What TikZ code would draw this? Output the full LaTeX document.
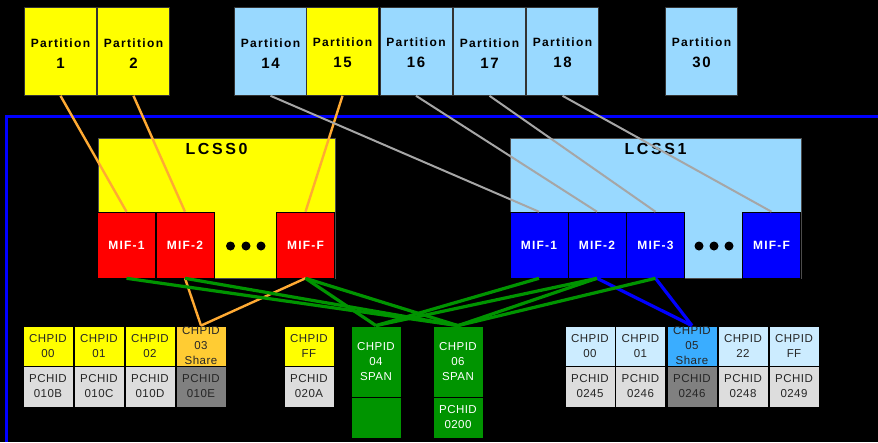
\documentclass[tikz,border=0pt]{standalone}
\usepackage{fontspec}
\setmainfont{Liberation Sans}
\usetikzlibrary{positioning}

\definecolor{pyellow}{HTML}{FFFF00}
\definecolor{pblue}{HTML}{99D9FF}
\definecolor{cblue}{HTML}{CCECFF}
\definecolor{sblue}{HTML}{3AADFF}
\definecolor{sorange}{HTML}{FFCC33}
\definecolor{pgray}{HTML}{DDDDDD}
\definecolor{dgray}{HTML}{808080}
\definecolor{mred}{HTML}{FF0000}
\definecolor{mblue}{HTML}{0000FF}
\definecolor{sgreen}{HTML}{009400}
\definecolor{lorange}{HTML}{FFAA33}
\definecolor{lgray}{HTML}{A6A6A6}

\begin{document}
\begin{tikzpicture}[x=1pt,y=-1pt]
                \tikzstyle{partition}=[rectangle,draw=black!80,line width=0.6pt,minimum width=72pt,minimum height=88pt,inner sep=0pt,align=center,font=\bfseries\fontsize{12}{21}\selectfont\addfontfeature{LetterSpace=11}]
                \tikzstyle{lcss}=[rectangle,draw=black!70,line width=0.6pt,minimum width=237pt,minimum height=140pt,inner sep=0pt]
                \tikzstyle{lcsstitle}=[inner sep=0pt,font=\bfseries\fontsize{16}{16}\selectfont\addfontfeature{LetterSpace=16}]
                \tikzstyle{mif}=[rectangle,draw=black,line width=0.6pt,minimum width=58pt,minimum height=66pt,inner sep=0pt,text=white,font=\bfseries\fontsize{12}{12}\selectfont\addfontfeature{LetterSpace=10}]
                \tikzstyle{chpid}=[rectangle,draw=black,line width=0.8pt,minimum width=50pt,minimum height=40pt,inner sep=0pt,align=center,text=black!85,font=\fontsize{11.5}{15}\selectfont\addfontfeature{LetterSpace=4}]
                \tikzstyle{pchid}=[chpid,fill=pgray,minimum height=41pt]
                \tikzstyle{span}=[chpid,fill=sgreen,text=white]
                \tikzstyle{dot}=[circle,fill=black,inner sep=0pt,minimum size=9pt]
                \useasboundingbox (0,0) rectangle (878,442);
                \fill[black] (0,0) rectangle (878,442);
                \draw[mblue,line width=3pt] (6,442) -- (6,116) -- (878,116);

                        \node[partition,fill=pyellow] (P-1) at (60.5, 51.5){\\[-9pt]Partition\\{\fontsize{15}{21}\selectfont 1}};
                        \node[partition,fill=pyellow] (P-2) at (133.5, 51.5){\\[-9pt]Partition\\{\fontsize{15}{21}\selectfont 2}};
                        \node[partition,fill=pblue] (P-14) at (270.5, 51.5){\\[-9pt]Partition\\{\fontsize{15}{21}\selectfont 14}};
                        \node[partition,fill=pyellow] (P-15) at (342.5, 51.5){\\[-9pt]Partition\\{\fontsize{15}{21}\selectfont 15}};
                        \node[partition,fill=pblue] (P-16) at (416, 51.5){\\[-9pt]Partition\\{\fontsize{15}{21}\selectfont 16}};
                        \node[partition,fill=pblue] (P-17) at (489.5, 51.5){\\[-9pt]Partition\\{\fontsize{15}{21}\selectfont 17}};
                        \node[partition,fill=pblue] (P-18) at (562.5, 51.5){\\[-9pt]Partition\\{\fontsize{15}{21}\selectfont 18}};
                        \node[partition,fill=pblue] (P-30) at (701.5, 51.5){\\[-9pt]Partition\\{\fontsize{15}{21}\selectfont 30}};

                        \node[lcss,fill=pyellow] (L-0) at (216.5, 208){};
                        \node[lcss,fill=pblue,minimum width=291pt] (L-1) at (655.5, 208){};
                        \node[lcsstitle,below=5pt of L-0.north] (T-0){LCSS0};
                        \node[lcsstitle,below=5pt of L-1.north] (T-1){LCSS1};

                        \node[mif,fill=mred] (M0-1) at (126.5, 245){MIF-1};
                        \node[mif,fill=mred] (M0-2) at (185, 245){MIF-2};
                        \node[mif,fill=mred] (M0-F) at (305.5, 245){MIF-F};
                        \node[mif,fill=mblue] (M1-1) at (539, 245){MIF-1};
                        \node[mif,fill=mblue] (M1-2) at (597, 245){MIF-2};
                        \node[mif,fill=mblue] (M1-3) at (655.5, 245){MIF-3};
                        \node[mif,fill=mblue] (M1-F) at (771.5, 245){MIF-F};

                        \node[dot] (D0-1) at (230.5, 246){};
                        \node[dot] (D0-2) at (246, 246){};
                        \node[dot] (D0-3) at (261, 246){};
                        \node[dot] (D1-1) at (699, 246){};
                        \node[dot] (D1-2) at (714, 246){};
                        \node[dot] (D1-3) at (729, 246){};

                        \node[chpid,fill=pyellow] (C0-00) at (48, 346){CHPID\\00};
                        \node[chpid,fill=pyellow] (C0-01) at (99, 346){CHPID\\01};
                        \node[chpid,fill=pyellow] (C0-02) at (150, 346){CHPID\\02};
                        \node[chpid,fill=sorange] (C0-03) at (201, 346){CHPID\\03\\Share};
                        \node[chpid,fill=pyellow] (C0-FF) at (309, 346){CHPID\\FF};
                        \node[pchid] (H0-00) at (48, 386.5){PCHID\\010B};
                        \node[pchid] (H0-01) at (99, 386.5){PCHID\\010C};
                        \node[pchid] (H0-02) at (150, 386.5){PCHID\\010D};
                        \node[pchid,fill=dgray] (H0-03) at (201, 386.5){PCHID\\010E};
                        \node[pchid] (H0-FF) at (309, 386.5){PCHID\\020A};

                        \node[span,minimum height=71pt] (S-04) at (376, 361.5){CHPID\\04\\SPAN};
                        \node[span,minimum height=71pt] (S-06) at (458, 361.5){CHPID\\06\\SPAN};
                        \node[span,minimum height=41pt] (SH-04) at (376, 417.5){};
                        \node[span,minimum height=41pt] (SH-06) at (458, 417.5){PCHID\\0200};

                        \node[chpid,fill=cblue] (C1-00) at (590, 346){CHPID\\00};
                        \node[chpid,fill=cblue] (C1-01) at (640.5, 346){CHPID\\01};
                        \node[chpid,fill=sblue] (C1-05) at (692, 346){CHPID\\05\\Share};
                        \node[chpid,fill=cblue] (C1-22) at (743, 346){CHPID\\22};
                        \node[chpid,fill=cblue] (C1-FF) at (794, 346){CHPID\\FF};
                        \node[pchid] (H1-00) at (590, 386.5){PCHID\\0245};
                        \node[pchid] (H1-01) at (640.5, 386.5){PCHID\\0246};
                        \node[pchid,fill=dgray] (H1-05) at (692, 386.5){PCHID\\0246};
                        \node[pchid] (H1-22) at (743, 386.5){PCHID\\0248};
                        \node[pchid] (H1-FF) at (794, 386.5){PCHID\\0249};

                    \foreach \from/\to in {P-1/M0-1, P-2/M0-2, P-15/M0-F}
                        \draw[lorange,line width=2.4pt] (\from.south) -- (\to.north);
                    \foreach \from/\to in {P-14/M1-1, P-16/M1-2, P-17/M1-3, P-18/M1-F}
                        \draw[lgray,line width=2pt] (\from.south) -- (\to.north);
                    \foreach \from/\to in {M0-2/C0-03, M0-F/C0-03}
                        \draw[lorange,line width=2.4pt] (\from.south) -- (\to.north);
                    \foreach \from/\to in {M1-2/C1-05, M1-3/C1-05}
                        \draw[mblue,line width=3.2pt] (\from.south) -- (\to.north);
                    \foreach \from/\to in {M0-1/S-06, M0-2/S-06, M0-F/S-04, M0-F/S-06, M1-1/S-04, M1-2/S-04, M1-2/S-06, M1-3/S-06}
                        \draw[sgreen,line width=3.2pt] (\from.south) -- (\to.north);
            \end{tikzpicture}
\end{document}
